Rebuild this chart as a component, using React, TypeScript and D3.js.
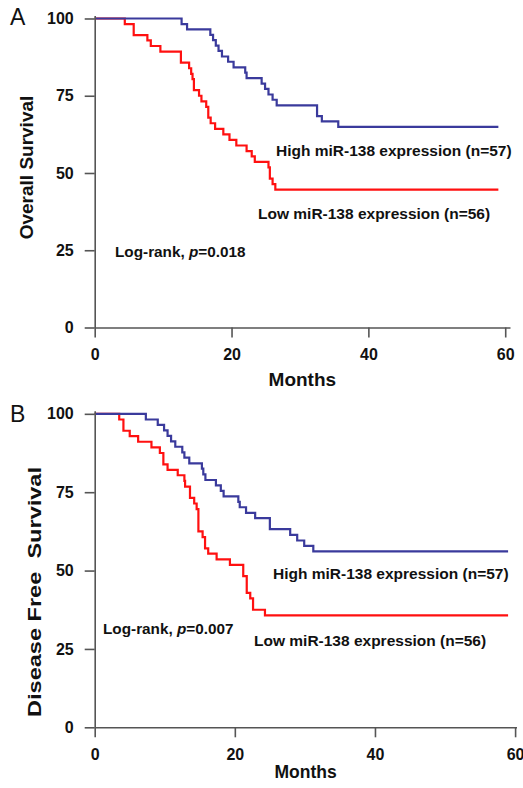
import React, { useEffect, useRef } from 'react';
import * as d3 from 'd3';

// axis ticks
const xTicks = [0, 20, 40, 60];
const yTicks = [0, 25, 50, 75, 100];
const followUpEnd = 59;

// panel A - overall survival (months, % surviving after each drop)
const osHighTime = [12.7, 13.5, 16.9, 17.3, 17.7, 18.1, 18.6, 19.5, 20.3, 22.0, 22.2, 24.4, 24.9, 25.4, 26.0, 26.6, 32.5, 33.2, 35.6];
const osHighSurv = [98.2, 96.5, 94.7, 93.0, 91.2, 89.5, 87.7, 86.0, 84.2, 82.5, 80.7, 78.9, 77.2, 75.4, 73.7, 71.9, 68.4, 66.7, 64.9];
const osLowTime = [4.4, 5.7, 7.7, 8.2, 9.6, 12.6, 13.8, 14.1, 14.3, 14.5, 15.25, 15.6, 16.3, 16.6, 16.95, 17.6, 18.8, 19.7, 20.7, 22.2, 22.95, 23.4, 25.4, 25.6, 26.0, 26.4];
const osLowSurv = [98.2, 94.6, 92.9, 91.1, 89.3, 85.7, 83.9, 82.1, 80.4, 76.8, 75.0, 73.2, 71.4, 67.9, 66.1, 64.3, 62.5, 60.7, 58.9, 57.1, 55.4, 53.6, 51.8, 48.2, 46.4, 44.6];

// panel B - disease free survival
const dfsHighTime = [7.3, 9.0, 9.9, 10.4, 10.9, 11.5, 12.5, 12.8, 13.5, 15.3, 15.5, 15.8, 17.3, 18.0, 18.4, 20.5, 20.7, 21.6, 22.9, 25.0, 27.9, 28.9, 29.9, 31.2];
const dfsHighSurv = [98.2, 96.5, 94.7, 93.0, 91.2, 89.5, 87.7, 86.0, 84.2, 82.5, 80.7, 78.9, 77.2, 75.4, 73.7, 71.9, 70.2, 68.4, 66.7, 63.2, 61.4, 59.6, 57.9, 56.1];
const dfsLowTime = [3.5, 4.1, 5.0, 6.2, 8.1, 9.3, 9.8, 10.4, 11.85, 12.8, 12.9, 13.6, 14.2, 14.55, 14.8, 15.4, 15.75, 16.2, 17.4, 19.3, 21.2, 21.7, 22.2, 22.6, 24.3];
const dfsLowSurv = [98.2, 94.6, 92.9, 91.1, 89.3, 87.5, 83.9, 82.1, 80.4, 78.6, 76.8, 73.2, 71.4, 69.6, 62.5, 60.7, 57.1, 55.4, 53.6, 51.8, 48.2, 42.9, 41.1, 37.5, 35.7];

const highLabel = 'High miR-138 expression (n=57)';
const lowLabel = 'Low miR-138 expression (n=56)';

const FONT = '"Liberation Sans", Arial, Helvetica, sans-serif';
const BLUE = '#3a3a9c';
const RED = '#ff1010';
const AXIS = '#555';
const INK = '#111';

const steps = (times: number[], surv: number[]) => {
  const pts: [number, number][] = [[0, 100]];
  times.forEach((t, i) => pts.push([t, surv[i]]));
  pts.push([followUpEnd, surv[surv.length - 1]]);
  return pts;
};

const Panel = ({ letter, yLabel, high, low, pval, lay }: any) => {
  const gx = useRef<SVGGElement>(null);
  const gy = useRef<SVGGElement>(null);

  const x = d3.scaleLinear().domain([0, lay.xMax]).range([lay.left, lay.right]);
  const y = d3.scaleLinear().domain([0, 101]).range([lay.bottom, lay.top]);

  useEffect(() => {
    const ax = d3.select(gx.current);
    ax.selectAll('*').remove();
    ax.call(d3.axisBottom(x).tickValues(xTicks).tickSize(10).tickSizeOuter(0).tickPadding(lay.xPad) as any);
    const ay = d3.select(gy.current);
    ay.selectAll('*').remove();
    ay.call(d3.axisLeft(y).tickValues(yTicks).tickSize(10).tickSizeOuter(0).tickPadding(11) as any);
    [ax, ay].forEach(g => {
      g.attr('font-family', FONT).attr('font-size', 16).attr('font-weight', 'bold');
      g.selectAll('path, line').attr('stroke', AXIS).attr('stroke-width', 1.6);
      g.selectAll('text').attr('fill', INK);
    });
  }, []);

  const line = d3.line<[number, number]>()
    .x(d => x(d[0]))
    .y(d => y(d[1]))
    .curve(d3.curveStepAfter);

  const txt = { fontFamily: FONT, fontWeight: 'bold', fill: INK } as any;

  return (
    <g>
      <text x={10} y={lay.letterY} style={{ fontFamily: FONT, fontSize: 23, fill: INK }}>{letter}</text>
      <path d={line(steps(low.t, low.s)) || ''} fill="none" stroke={RED} strokeWidth={2.2} />
      <path d={line(steps(high.t, high.s)) || ''} fill="none" stroke={BLUE} strokeWidth={2.2} />
      <g ref={gx} transform={`translate(0,${lay.bottom})`} />
      <g ref={gy} transform={`translate(${lay.left},0)`} />
      <text transform={`translate(${lay.yLabelX},${lay.yLabelY}) rotate(-90)`} textAnchor="middle"
        textLength={lay.yLabelLen} lengthAdjust="spacingAndGlyphs"
        style={{ ...txt, fontSize: 19, whiteSpace: 'pre' }}>{yLabel}</text>
      <text x={(lay.left + lay.right) / 2} y={lay.monthsY} textAnchor="middle" style={{ ...txt, fontSize: lay.monthsSize }}>Months</text>
      <text x={lay.highX} y={lay.highY} style={{ ...txt, fontSize: 15.5 }}>{highLabel}</text>
      <text x={lay.lowX} y={lay.lowY} style={{ ...txt, fontSize: 15.5 }}>{lowLabel}</text>
      <text x={lay.pX} y={lay.pY} style={{ ...txt, fontSize: 15.3 }}>
        Log-rank, <tspan fontStyle="italic">p</tspan>={pval}
      </text>
    </g>
  );
};

const layoutA = {
  left: 94.7, right: 510, xMax: 60.7, bottom: 327.5, top: 15.4, xPad: 11,
  letterY: 25, yLabelX: 33, yLabelY: 167.5, yLabelLen: undefined, monthsY: 385.5, monthsSize: 19,
  highX: 276, highY: 155.5, lowX: 258, lowY: 218.5, pX: 115, pY: 257,
};

const layoutB = {
  left: 94.7, right: 516.5, xMax: 60.2, bottom: 727.3, top: 410.7, xPad: 11.7,
  letterY: 422, yLabelX: 40.5, yLabelY: 592, yLabelLen: 250, monthsY: 778, monthsSize: 17.5,
  highX: 273, highY: 578.5, lowX: 254, lowY: 645.5, pX: 103, pY: 633.5,
};

export default function App() {
  return (
    <svg width={523} height={788} style={{ position: 'absolute', left: 0, top: 0, background: '#fff' }}>
      <Panel letter="A" yLabel="Overall Survival" pval="0.018" lay={layoutA}
        high={{ t: osHighTime, s: osHighSurv }} low={{ t: osLowTime, s: osLowSurv }} />
      <Panel letter="B" yLabel={'Disease Free  Survival'} pval="0.007" lay={layoutB}
        high={{ t: dfsHighTime, s: dfsHighSurv }} low={{ t: dfsLowTime, s: dfsLowSurv }} />
    </svg>
  );
}
